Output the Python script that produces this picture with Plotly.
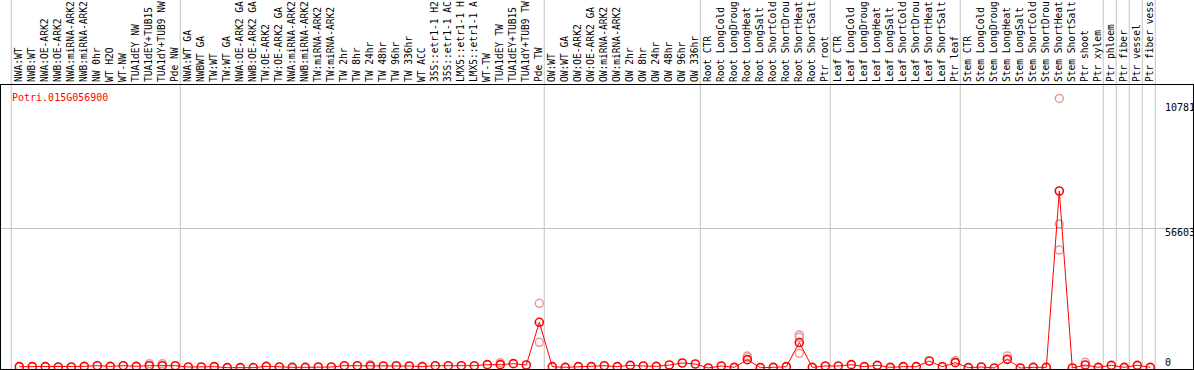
import plotly.graph_objects as go

gene_id = "Potri.015G056900"

labels = [
    "NWA:WT", "NWB:WT", "NWA:OE-ARK2", "NWB:OE-ARK2", "NWA:miRNA-ARK2", "NWB:miRNA-ARK2",
    "NW 0hr", "WT H2O", "WT-NW", "TUA1dEY NW", "TUA1dEY+TUB15", "TUA1dY+TUB9 NW", "Pde NW",
    "NWA:WT GA", "NWBWT GA", "TW:WT", "TW:WT GA", "NWA:OE-ARK2 GA", "NWB:OE-ARK2 GA",
    "TW:OE-ARK2", "TW:OE-ARK2 GA", "NWA:miRNA-ARK2", "NWB:miRNA-ARK2", "TW:miRNA-ARK2",
    "TW:miRNA-ARK2", "TW 2hr", "TW 8hr", "TW 24hr", "TW 48hr", "TW 96hr", "TW 336hr",
    "WT ACC", "35S::etr1-1 H2", "35S::etr1-1 AC", "LMX5::etr1-1 H", "LMX5::etr1-1 A",
    "WT-TW", "TUA1dEY TW", "TUA1dEY+TUB15", "TUA1dY+TUB9 TW", "Pde TW",
    "OW:WT", "OW:WT GA", "OW:OE-ARK2", "OW:OE-ARK2 GA", "OW:miRNA-ARK2", "OW:miRNA-ARK2",
    "OW 2hr", "OW 8hr", "OW 24hr", "OW 48hr", "OW 96hr", "OW 336hr",
    "Root CTR", "Root LongCold", "Root LongDroug", "Root LongHeat", "Root LongSalt",
    "Root ShortCold", "Root ShortDrou", "Root ShortHeat", "Root ShortSalt", "Ptr root",
    "Leaf CTR", "Leaf LongCold", "Leaf LongDroug", "Leaf LongHeat", "Leaf LongSalt",
    "Leaf ShortCold", "Leaf ShortDrou", "Leaf ShortHeat", "Leaf ShortSalt", "Ptr leaf",
    "Stem CTR", "Stem LongCold", "Stem LongDroug", "Stem LongHeat", "Stem LongSalt",
    "Stem ShortCold", "Stem ShortDrou", "Stem ShortHeat", "Stem ShortSalt", "Ptr shoot",
    "Ptr xylem", "Ptr phloem", "Ptr fiber", "Ptr vessel", "Ptr fiber vess",
]

means = [
    540, 540, 540, 400, 400, 670, 940, 670, 940, 670, 940, 940, 940,
    400, 400, 540, 135, 135, 135, 670, 400, 270, 270, 400, 400, 940, 940, 810,
    810, 940, 810, 540, 940, 940, 940, 940, 1350, 1350, 1750, 1210, 18480,
    540, 270, 540, 540, 940, 540, 1080, 810, 670, 1210, 2020, 1620,
    20, 810, 270, 3370, 135, 270, 540, 10300, 270, 810,
    810, 1350, 540, 1080, 270, 540, 540, 2830, 540, 2160,
    135, 400, 20, 3500, 0, 270, 270, 71560, 20, 1210,
    270, 1080, 270, 1080, 270,
]

rep_index = [10, 11, 27, 37, 40, 40, 56, 56, 60, 60, 60, 72, 76, 80, 80, 80, 82]
rep_value = [1750, 1750, 1350, 2160, 26160, 10390, 4850, 4400, 13350, 12400, 5930,
             2970, 4850, 109000, 58220, 47700, 2290]

axis_marks = [0, 56603, 107810]
group_breaks = [-1, 12, 40, 52, 62, 72, 83, 84, 85, 86, 87]

x = list(range(len(labels)))
FONT = "DejaVu Sans Mono"

fig = go.Figure()
fig.add_trace(go.Scatter(
    x=rep_index, y=rep_value, mode="markers",
    marker=dict(symbol="circle-open", size=8, color="#ec9a9a", line=dict(width=1.5)),
    hoverinfo="skip", showlegend=False, cliponaxis=False,
))
fig.add_trace(go.Scatter(
    x=x, y=means, mode="lines+markers",
    line=dict(color="#ff0000", width=1),
    marker=dict(symbol="circle-open", size=8, color="#ff0000", line=dict(width=1.6)),
    showlegend=False, cliponaxis=False,
))

for b in group_breaks:
    fig.add_shape(type="line", xref="x", yref="paper", x0=b + 0.38, x1=b + 0.38,
                  y0=0, y1=1.31, line=dict(color="#c4c4c4", width=1), layer="below")

shifts = [6, -4, -6]
for v, s in zip(axis_marks, shifts):
    fig.add_annotation(xref="paper", yref="y", x=(1163 - 1) / 1192, y=v, text=str(v),
                       xanchor="left", yanchor="middle", yshift=s, showarrow=False,
                       font=dict(family=FONT, size=10, color="black"))

fig.add_annotation(xref="paper", yref="paper", x=(10 - 1) / 1192, y=(369 - 97) / 284,
                   text=gene_id, xanchor="left", yanchor="middle", showarrow=False,
                   font=dict(family=FONT, size=10, color="#ff0000"))

x0 = -18.3 / 13
x1 = x0 + 1192 / 13
fig.update_layout(
    width=1194, height=370,
    margin=dict(l=1, r=1, t=85, b=1, pad=0, autoexpand=False),
    paper_bgcolor="white", plot_bgcolor="white",
    xaxis=dict(range=[x0, x1], side="top", tickmode="array", tickvals=x, ticktext=labels,
               tickangle=-90, tickfont=dict(family=FONT, size=9.6, color="black"),
               showgrid=False, zeroline=False, showline=True, linecolor="black",
               linewidth=1, mirror=True, ticks="", automargin=False),
    yaxis=dict(range=[-404, 114420], tickmode="array", tickvals=[56603],
               showticklabels=False, showgrid=True, gridcolor="#c4c4c4", gridwidth=1,
               zeroline=False, showline=True, linecolor="black", linewidth=1, mirror=True,
               ticks="", automargin=False),
)

fig.write_html(
    "out.html",
    config={"displayModeBar": False},
    post_script="document.body.style.margin='0';document.body.style.overflow='hidden';",
)
